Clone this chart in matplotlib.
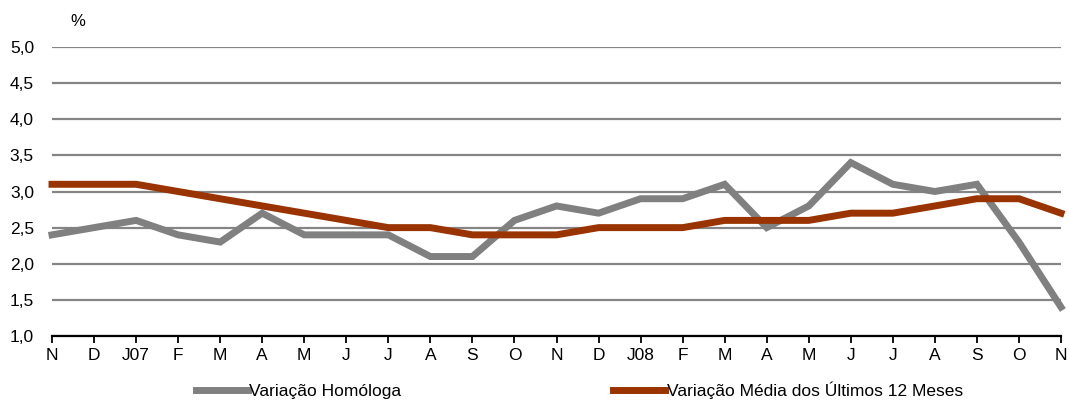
import matplotlib
matplotlib.use("Agg")
import matplotlib.pyplot as plt
from matplotlib.ticker import FuncFormatter

meses = ["N", "D", "J07", "F", "M", "A", "M", "J", "J", "A", "S", "O",
         "N", "D", "J08", "F", "M", "A", "M", "J", "J", "A", "S", "O", "N"]
homologa = [2.4, 2.5, 2.6, 2.4, 2.3, 2.7, 2.4, 2.4, 2.4, 2.1, 2.1, 2.6,
            2.8, 2.7, 2.9, 2.9, 3.1, 2.5, 2.8, 3.4, 3.1, 3.0, 3.1, 2.3, 1.4]
media12 = [3.1, 3.1, 3.1, 3.0, 2.9, 2.8, 2.7, 2.6, 2.5, 2.5, 2.4, 2.4,
           2.4, 2.5, 2.5, 2.5, 2.6, 2.6, 2.6, 2.7, 2.7, 2.8, 2.9, 2.9, 2.7]
yticks = [1.0, 1.5, 2.0, 2.5, 3.0, 3.5, 4.0, 4.5, 5.0]

plt.rcParams['font.family'] = ['Liberation Sans', 'DejaVu Sans']

fig = plt.figure(figsize=(10.69, 4.03), dpi=100)
ax = fig.add_axes([52 / 1069, 1 - 336 / 403, (1061 - 52) / 1069, (336 - 47) / 403])

x = list(range(len(meses)))
l1, = ax.plot(x, homologa, color='#808080', lw=5, solid_joinstyle='miter',
              label='Variação Homóloga', clip_on=False, zorder=3)
l2, = ax.plot(x, media12, color='#993300', lw=5, solid_joinstyle='miter',
              label='Variação Média dos Últimos 12 Meses', clip_on=False, zorder=4)

ax.set_xlim(0, len(meses) - 1)
ax.set_ylim(1.0, 5.0)
ax.set_yticks(yticks)
ax.yaxis.set_major_formatter(FuncFormatter(lambda v, p: f"{v:.1f}".replace('.', ',')))
ax.set_xticks(x)
ax.set_xticklabels(meses)

ax.grid(axis='y', color='#858585', lw=1.6)
ax.set_axisbelow(True)
for s in ['left', 'right', 'top']:
    ax.spines[s].set_visible(False)
ax.spines['bottom'].set_linewidth(1.6)
ax.spines['bottom'].set_zorder(5)
ax.tick_params(axis='y', length=0, pad=13, labelsize=12.5)
ax.tick_params(axis='x', direction='out', length=5, width=1.3, pad=4, labelsize=12.5)

fig.text(78 / 1069, 1 - 22 / 403, '%', fontsize=12, ha='center', va='center')

leg = fig.legend(handles=[l1, l2], loc='center left', ncol=2,
                 bbox_to_anchor=(180 / 1069, 1 - 390 / 403), frameon=False,
                 handlelength=3.0, handletextpad=0.1, columnspacing=12.2,
                 prop={'size': 12.5})

fig.savefig('out.png', dpi=100)
